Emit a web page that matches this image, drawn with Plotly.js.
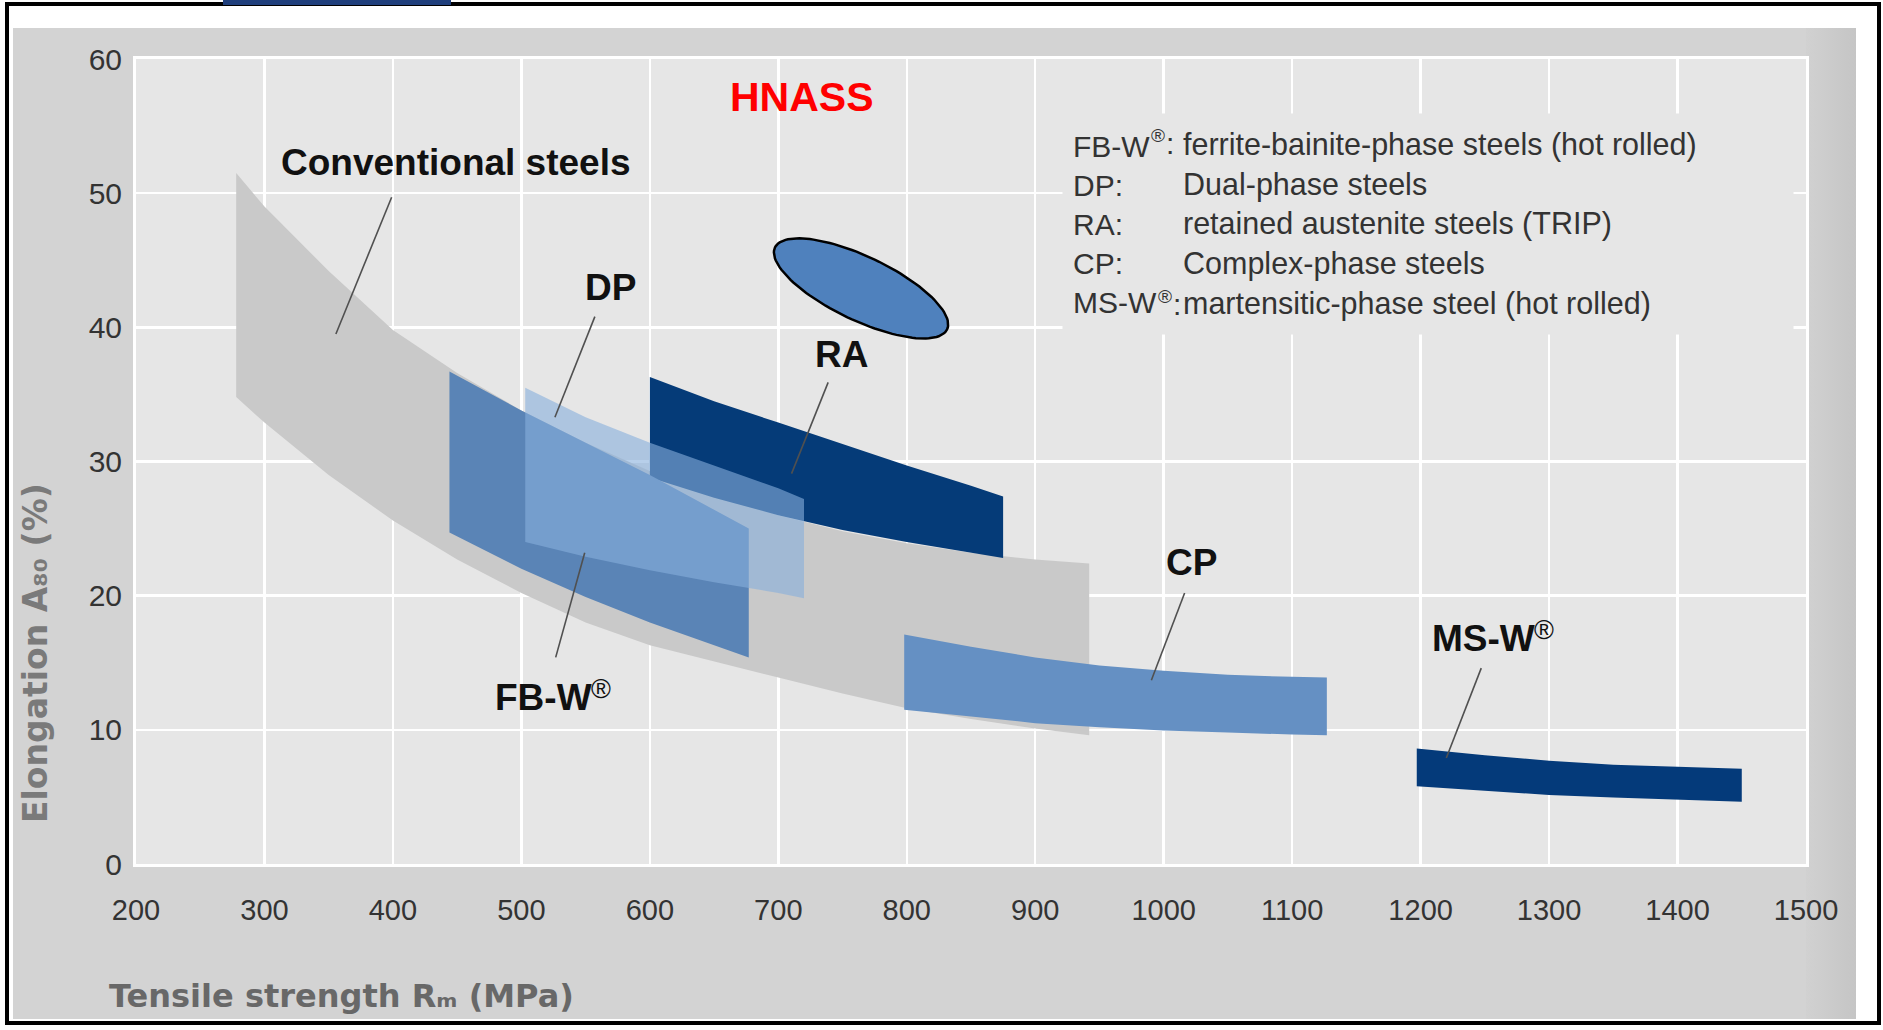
<!DOCTYPE html>
<html><head><meta charset="utf-8">
<script src="https://cdn.plot.ly/plotly-3.0.1.min.js"></script>
<style>
html,body{margin:0;padding:0;background:#fff;}
#wrap{position:relative;width:1883px;height:1030px;overflow:hidden;background:#fff;}
#wrap .bg{position:absolute;box-sizing:border-box;}
#chart{position:absolute;left:0;top:0;width:1883px;height:1030px;}
</style>
</head><body>
<div id="wrap">
  <div class="bg" style="left:5px;top:2px;width:1876px;height:1023px;border:4px solid #000;background:#fff;"></div>
  <div class="bg" style="left:13px;top:28px;width:1843px;height:991px;background:#d3d3d3;"></div>
  <div class="bg" style="left:1806px;top:28px;width:50px;height:991px;background:linear-gradient(to right,#d1d1d1,#c5c5c5);"></div>
  <div class="bg" style="left:223px;top:0px;width:228px;height:5px;background:#1f3f7c;"></div>
  <div id="chart"></div>
</div>
<script>
// ---------- data ----------
const conventionalX     = [278, 300, 350, 400, 450, 500, 550, 600, 650, 700, 750, 800, 850, 900, 942];
const conventionalUpper = [51.5, 49.0, 44.2, 39.8, 36.6, 33.8, 31.4, 29.3, 27.5, 26.0, 24.8, 23.9, 23.2, 22.7, 22.4];
const conventionalLower = [34.8, 32.9, 29.0, 25.6, 22.7, 20.2, 18.0, 16.3, 15.1, 13.9, 12.7, 11.6, 10.8, 10.1, 9.6];

const raX     = [600, 650, 700, 750, 800, 850, 875];
const raUpper = [36.3, 34.5, 32.9, 31.3, 29.7, 28.2, 27.4];
const raLower = [28.8, 27.3, 26.0, 24.9, 24.0, 23.2, 22.8];

const fbwX     = [444, 500, 550, 600, 650, 677];
const fbwUpper = [36.7, 33.8, 31.4, 29.0, 26.4, 25.0];
const fbwLower = [24.7, 22.0, 19.9, 18.0, 16.3, 15.4];

const dpX     = [503, 550, 600, 650, 700, 720];
const dpUpper = [35.5, 33.3, 31.4, 29.7, 28.0, 27.2];
const dpLower = [24.0, 22.9, 21.9, 21.0, 20.2, 19.8];

const cpX     = [798, 850, 900, 950, 1000, 1050, 1100, 1127];
const cpUpper = [17.1, 16.2, 15.4, 14.8, 14.4, 14.1, 13.95, 13.9];
const cpLower = [11.5, 11.0, 10.5, 10.2, 9.95, 9.8, 9.65, 9.6];

const mswX     = [1197, 1250, 1300, 1350, 1400, 1450];
const mswUpper = [8.6, 8.1, 7.7, 7.4, 7.25, 7.1];
const mswLower = [5.8, 5.45, 5.15, 4.95, 4.78, 4.64];

// HNASS ellipse: centre and semi-axis vectors in data units
const hnassCenter = [764.4, 42.9];
const hnassMajor  = [67.0, -3.05];
const hnassMinor  = [-10.6, -2.15];

// region labels with leader lines (data units); a trailing mark is drawn raised
const labelText   = ['Conventional steels', 'DP', 'RA', 'FB-W', 'CP', 'MS-W'];
const labelMark   = ['', '', '', '®', '', '®'];
const labelX      = [449, 569.6, 749.2, 556.4, 1021.4, 1290.4];
const labelY      = [52.3, 43.0, 38.0, 12.4, 22.5, 16.8];
const labelAnchor = ['center', 'center', 'center', 'right', 'center', 'right'];
const leaderX0  = [399.0, 557.2, 738.8, 526.7, 1016.3, 1247.2];
const leaderY0  = [49.7, 40.8, 35.9, 15.4, 20.2, 14.6];
const leaderX1  = [355.6, 526.1, 710.3, 549.3, 990.4, 1220.0];
const leaderY1  = [39.5, 33.3, 29.1, 23.2, 13.7, 7.9];

// key text
const keyCodes = ['FB-W', 'DP:', 'RA:', 'CP:', 'MS-W'];
const keyCodeMark = ['®:', '', '', '', '®:'];
const keyDescriptions = ['ferrite-bainite-phase steels (hot rolled)', 'Dual-phase steels',
  'retained austenite steels (TRIP)', 'Complex-phase steels', 'martensitic-phase steel (hot rolled)'];

const xTicks = [200, 300, 400, 500, 600, 700, 800, 900, 1000, 1100, 1200, 1300, 1400, 1500];
const yTicks = [0, 10, 20, 30, 40, 50, 60];

// ---------- build ----------
function band(x, up, lo, color, name) {
  return {
    type: 'scatter', mode: 'lines', name: name,
    x: x.concat(x.slice().reverse()),
    y: up.concat(lo.slice().reverse()),
    fill: 'toself', fillcolor: color,
    line: {width: 0, color: color}, hoverinfo: 'name', showlegend: false
  };
}
const ex = [], ey = [];
for (let i = 0; i <= 120; i++) {
  const t = 2 * Math.PI * i / 120;
  ex.push(hnassCenter[0] + Math.cos(t) * hnassMajor[0] + Math.sin(t) * hnassMinor[0]);
  ey.push(hnassCenter[1] + Math.cos(t) * hnassMajor[1] + Math.sin(t) * hnassMinor[1]);
}
const lx = [], ly = [];
for (let i = 0; i < leaderX0.length; i++) {
  lx.push(leaderX0[i], leaderX1[i], null);
  ly.push(leaderY0[i], leaderY1[i], null);
}

const traces = [
  band(conventionalX, conventionalUpper, conventionalLower, '#c9c9c9', 'Conventional steels'),
  band(raX, raUpper, raLower, '#053b78', 'RA'),
  band(fbwX, fbwUpper, fbwLower, '#5a84b6', 'FB-W'),
  band(dpX, dpUpper, dpLower, 'rgba(135,175,220,0.6)', 'DP'),
  band(cpX, cpUpper, cpLower, '#6590c3', 'CP'),
  band(mswX, mswUpper, mswLower, '#043a7a', 'MS-W'),
  {type: 'scatter', mode: 'lines', name: 'HNASS', x: ex, y: ey, fill: 'toself',
   fillcolor: '#4f81bd', line: {color: '#000', width: 2.5}, showlegend: false, hoverinfo: 'name'},
  {type: 'scatter', mode: 'lines', name: 'leaders', x: lx, y: ly, connectgaps: false,
   line: {color: '#505050', width: 1.6}, showlegend: false, hoverinfo: 'skip'}
];

// paper coordinate helpers (plot area is 136..1806 x 59..864 px)
const L = 136, R = 77, T = 59, B = 166, W = 1883, H = 1030;
const pw = W - L - R, ph = H - T - B;
const px = v => (v - L) / pw;
const py = v => (H - B - v) / ph;

const FONT = 'Liberation Sans, Arial, sans-serif';
const annotations = [];
for (let i = 0; i < labelText.length; i++) {
  annotations.push({x: labelX[i], y: labelY[i], xref: 'x', yref: 'y', text: '<b>' + labelText[i] + '</b>', showarrow: false,
    font: {family: FONT, size: 37, color: '#111'}, xanchor: labelAnchor[i], yanchor: 'middle'});
  if (labelMark[i]) {
    annotations.push({x: labelX[i], y: labelY[i], xref: 'x', yref: 'y', text: labelMark[i], showarrow: false,
      font: {family: FONT, size: 27, color: '#111'}, xanchor: 'left', yanchor: 'middle', xshift: -5, yshift: 9});
  }
}
annotations.push({x: 718.7, y: 57.2, xref: 'x', yref: 'y', text: '<b>HNASS</b>', showarrow: false,
  font: {family: FONT, size: 41, color: '#ff0000'}});
// key: codes column in a box that hides the grid behind it, descriptions column on top
annotations.push({xref: 'paper', yref: 'paper', x: px(1062), y: py(224), xanchor: 'left', yanchor: 'middle',
  text: keyCodes.join('<br>'), showarrow: false, align: 'left', valign: 'middle',
  width: 710, height: 200, borderpad: 10, bgcolor: '#e6e6e6',
  font: {family: FONT, size: 30, color: '#333'}});
const keyLineY = [143.4, 183.7, 224, 264.3, 304.6];
for (let i = 0; i < keyCodes.length; i++) {
  if (keyCodeMark[i]) {
    annotations.push({xref: 'paper', yref: 'paper', x: px(1072 + (i === 0 ? 77 : 84)), y: py(keyLineY[i] - 8),
      xanchor: 'left', yanchor: 'middle', text: keyCodeMark[i][0], showarrow: false,
      font: {family: FONT, size: 19, color: '#333'}});
    annotations.push({xref: 'paper', yref: 'paper', x: px(1072 + (i === 0 ? 92 : 99)), y: py(keyLineY[i]),
      xanchor: 'left', yanchor: 'middle', text: keyCodeMark[i][1], showarrow: false,
      font: {family: FONT, size: 30, color: '#333'}});
  }
}
annotations.push({xref: 'paper', yref: 'paper', x: px(1181), y: py(224), xanchor: 'left', yanchor: 'middle',
  text: keyDescriptions.join('<br>'), showarrow: false, align: 'left',
  font: {family: FONT, size: 30.5, color: '#333'}});
// axis titles (placed as in the reference, not centred)
annotations.push({xref: 'paper', yref: 'paper', x: px(107), y: py(996), xanchor: 'left', yanchor: 'middle',
  text: '<b>Tensile strength Rₘ (MPa)</b>', showarrow: false,
  font: {family: 'DejaVu Sans, sans-serif', size: 32, color: '#686868'}});
annotations.push({xref: 'paper', yref: 'paper', x: px(36), y: py(653), xanchor: 'center', yanchor: 'middle', textangle: -90,
  text: '<b>Elongation A₈₀ (%)</b>', showarrow: false,
  font: {family: 'DejaVu Sans, sans-serif', size: 33, color: '#7a7a7a'}});

const layout = {
  width: W, height: H,
  margin: {l: L, r: R, t: T, b: B, pad: 0},
  paper_bgcolor: 'rgba(0,0,0,0)', plot_bgcolor: '#e6e6e6',
  showlegend: false,
  font: {family: FONT, color: '#333'},
  xaxis: {range: [200, 1500], tickvals: xTicks, ticktext: xTicks.map(String), showgrid: true, gridcolor: '#ffffff', gridwidth: 2.5,
    zeroline: false, showline: true, mirror: true, linecolor: '#ffffff', linewidth: 3, ticks: '',
    tickfont: {family: FONT, size: 29, color: '#333'}, ticklabelstandoff: 18, fixedrange: true},
  yaxis: {range: [0, 60], tickvals: yTicks, ticktext: yTicks.map(String), showgrid: true, gridcolor: '#ffffff', gridwidth: 2.5,
    zeroline: false, showline: true, mirror: true, linecolor: '#ffffff', linewidth: 3, ticks: '',
    tickfont: {family: FONT, size: 30, color: '#333'}, ticklabelstandoff: 5, fixedrange: true},
  annotations: annotations
};
Plotly.newPlot('chart', traces, layout, {displayModeBar: false, staticPlot: true});
</script></body></html>
